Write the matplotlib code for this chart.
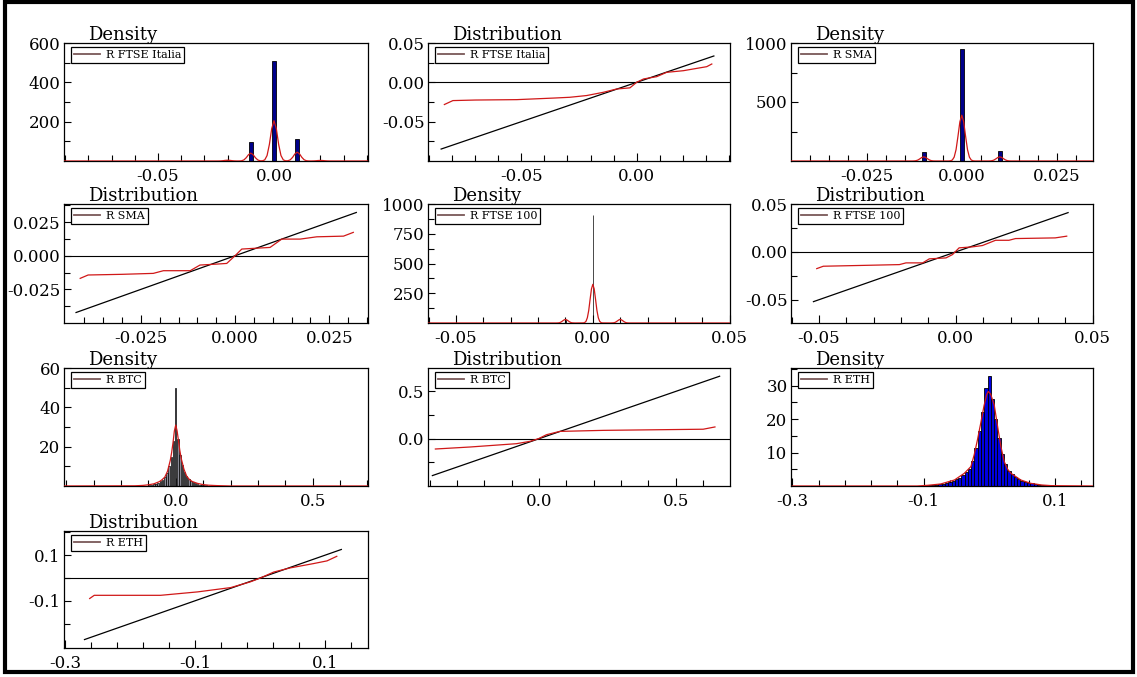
import matplotlib
matplotlib.use("Agg")
import matplotlib.pyplot as plt
from matplotlib.patches import Rectangle
from matplotlib.lines import Line2D
from matplotlib.ticker import FixedLocator, FormatStrFormatter

plt.rcParams['font.family'] = ['DejaVu Serif']
plt.rcParams['axes.unicode_minus'] = False

# ---------------- data ----------------
# Density R FTSE Italia
ita_bar_x = [-0.02, -0.01, 0.0, 0.01, 0.02]
ita_bar_h = [5, 98, 507, 110, 3]
ita_kde_x = [-0.0905, -0.025, -0.024, -0.023, -0.022, -0.021, -0.020, -0.019, -0.018, -0.017,
             -0.016, -0.015, -0.014, -0.013, -0.012, -0.011, -0.010, -0.009, -0.008, -0.007,
             -0.006, -0.005, -0.004, -0.003, -0.002, -0.001, 0.000, 0.001, 0.002, 0.003,
             0.004, 0.005, 0.006, 0.007, 0.008, 0.009, 0.010, 0.011, 0.012, 0.013,
             0.014, 0.015, 0.016, 0.017, 0.018, 0.019, 0.020, 0.021, 0.022, 0.023,
             0.024, 0.025, 0.0405]
ita_kde_y = [0, 0, 0.1, 0.5, 1.6, 3.2, 4.0, 3.2, 1.6, 0.5,
             0.1, 0.2, 1.1, 5.4, 16.4, 32, 40, 32, 16.4, 5.4,
             1.1, 1.0, 5.7, 27.7, 84, 164, 205, 164, 84, 27.7,
             5.7, 1.0, 1.3, 6.1, 18.5, 36, 45, 36, 18.5, 6.1,
             1.3, 0.2, 0.1, 0.4, 1.2, 2.4, 3.0, 2.4, 1.2, 0.4,
             0.1, 0, 0]

# Distribution R FTSE Italia
ita_q_x = [-0.0834, -0.0797, -0.070, -0.052, -0.036, -0.029, -0.0217, -0.0145, -0.0087,
           -0.0029, 0.0, 0.003, 0.0087, 0.013, 0.0203, 0.026, 0.0304, 0.0326]
ita_q_y = [-0.0282, -0.0232, -0.0225, -0.022, -0.020, -0.019, -0.0168, -0.0127, -0.0085,
           -0.0070, 0.0, 0.0043, 0.0072, 0.0127, 0.0148, 0.0177, 0.0199, 0.0233]
ita_ref = [-0.0848, 0.0335]

# Density R SMA
sma_bar_x = [-0.01, 0.0, 0.01]
sma_bar_h = [80, 950, 82]
sma_kde_x = [-0.045, -0.013, -0.0125, -0.012, -0.0115, -0.011, -0.0105, -0.010, -0.0095,
             -0.009, -0.0085, -0.008, -0.0075, -0.007, -0.0035, -0.003, -0.0025, -0.002,
             -0.0015, -0.001, -0.0005, 0.0, 0.0005, 0.001, 0.0015, 0.002, 0.0025, 0.003,
             0.0035, 0.007, 0.0075, 0.008, 0.0085, 0.009, 0.0095, 0.010, 0.0105, 0.011,
             0.0115, 0.012, 0.0125, 0.013, 0.0345]
sma_kde_y = [0, 0, 0.7, 3, 8.8, 19, 30, 35, 30,
             19, 8.8, 3, 0.7, 0.1, 0, 1.6, 8, 33,
             97, 210, 332, 388, 332, 210, 97, 33, 8, 1.6,
             0, 0.1, 0.7, 3, 8.8, 19, 30, 35, 30, 19,
             8.8, 3, 0.7, 0, 0]

# Distribution R SMA
sma_q_x = [-0.0411, -0.039, -0.030, -0.0217, -0.019, -0.0119, -0.0093, -0.0049, -0.0022,
           0.0, 0.0018, 0.0049, 0.0093, 0.0124, 0.0173, 0.0217, 0.0288, 0.0314]
sma_q_y = [-0.0168, -0.0143, -0.0138, -0.0131, -0.0111, -0.0111, -0.0069, -0.0062, -0.0057,
           0.0, 0.0050, 0.0055, 0.0062, 0.0124, 0.0124, 0.0141, 0.0146, 0.0174]
sma_ref = [-0.0422, 0.0322]

# Density R FTSE 100
uk_bar_x = [-0.01, 0.0, 0.01]
uk_bar_h = [25, 910, 20]
uk_kde_x = [-0.06, -0.0135, -0.013, -0.0125, -0.012, -0.0115, -0.011, -0.0105, -0.010,
            -0.0095, -0.009, -0.0085, -0.008, -0.0075, -0.0065, -0.0035, -0.003, -0.0025,
            -0.002, -0.0015, -0.001, -0.0005, 0.0, 0.0005, 0.001, 0.0015, 0.002, 0.0025,
            0.003, 0.0035, 0.0065, 0.0075, 0.008, 0.0085, 0.009, 0.0095, 0.010, 0.0105,
            0.011, 0.0115, 0.012, 0.0125, 0.013, 0.0135, 0.05]
uk_kde_y = [0, 0, 0.3, 1.3, 4, 9.7, 18, 26, 30,
            26, 18, 9.7, 4, 1.3, 0, 0.7, 3.6, 14,
            44, 105, 198, 286, 325, 286, 198, 105, 44, 14,
            3.6, 0.7, 0, 1.3, 4, 9.7, 18, 26, 30, 26,
            18, 9.7, 4, 1.3, 0.3, 0, 0]

# Distribution R FTSE 100
uk_q_x = [-0.0508, -0.0484, -0.035, -0.0206, -0.0182, -0.0121, -0.0097, -0.0036, -0.0012,
          0.0012, 0.006, 0.0097, 0.0145, 0.0194, 0.0218, 0.0363, 0.0405]
uk_q_y = [-0.0175, -0.0150, -0.0142, -0.0133, -0.0115, -0.0115, -0.0073, -0.0063, -0.0028,
          0.0042, 0.0052, 0.0066, 0.0121, 0.0121, 0.0139, 0.0146, 0.0164]
uk_ref = [-0.052, 0.041]

# Density R BTC
btc_bar_x = [-0.096, -0.088, -0.080, -0.072, -0.064, -0.056, -0.048, -0.040, -0.032, -0.024,
             -0.016, -0.008, 0.0, 0.008, 0.016, 0.024, 0.032, 0.040, 0.048, 0.056,
             0.064, 0.072, 0.080, 0.088, 0.096, 0.104, 0.112, 0.120]
btc_bar_h = [0.4, 0.5, 0.8, 1.1, 1.6, 2.3, 3.3, 4.6, 6.7, 10,
             15, 23, 50, 24, 16, 10.5, 7, 5, 3.5, 2.5,
             1.8, 1.3, 1.0, 0.7, 0.5, 0.4, 0.3, 0.2]
btc_kde_x = [-0.408, -0.15, -0.12, -0.10, -0.08, -0.06, -0.05, -0.04, -0.03, -0.02, -0.015,
             -0.01, -0.005, 0.0, 0.005, 0.01, 0.015, 0.02, 0.03, 0.04, 0.05, 0.06, 0.08,
             0.10, 0.12, 0.15, 0.20, 0.702]
btc_kde_y = [0, 0.1, 0.3, 0.6, 1.1, 2.2, 3.2, 4.5, 7.5, 13, 17,
             22, 28, 31, 28, 23, 18, 14, 8.5, 5, 3.3, 2.3, 1.3,
             0.7, 0.4, 0.2, 0, 0]

# Distribution R BTC
btc_q_x = [-0.379, -0.253, -0.083, -0.033, -0.002, 0.027, 0.076, 0.235, 0.60, 0.643]
btc_q_y = [-0.109, -0.088, -0.053, -0.028, 0.0, 0.042, 0.077, 0.088, 0.100, 0.124]
btc_ref = [-0.39, 0.66]

# Density R ETH
eth_bar_x = [-0.095, -0.090, -0.085, -0.080, -0.075, -0.070, -0.065, -0.060, -0.055, -0.050,
             -0.045, -0.040, -0.035, -0.030, -0.025, -0.020, -0.015, -0.010, -0.005, 0.0,
             0.005, 0.010, 0.015, 0.020, 0.025, 0.030, 0.035, 0.040, 0.045, 0.050,
             0.055, 0.060, 0.065, 0.070, 0.075, 0.080, 0.085, 0.090, 0.095]
eth_bar_h = [0.15, 0.2, 0.3, 0.4, 0.5, 0.6, 0.8, 1.1, 1.5, 2.0,
             2.3, 3.3, 4.2, 5.0, 7.5, 11.5, 16.5, 22, 29.3, 32.8,
             26, 20, 14.5, 9.5, 6.5, 4.5, 3.5, 2.8, 2.0, 1.6,
             1.3, 1.0, 0.8, 0.6, 0.4, 0.3, 0.3, 0.2, 0.15]
eth_kde_x = [-0.30, -0.11, -0.094, -0.074, -0.053, -0.038, -0.028, -0.023, -0.018, -0.013,
             -0.008, -0.004, -0.0015, 0.002, 0.0075, 0.0127, 0.0177, 0.0228, 0.028, 0.033,
             0.048, 0.063, 0.08, 0.095, 0.158]
eth_kde_y = [0, 0, 0.2, 0.6, 1.8, 3.8, 5.8, 9.3, 13.8, 18.8,
             24, 27.3, 28.3, 27.5, 24.3, 17.8, 11.8, 7.3, 5.0, 3.8,
             1.8, 0.8, 0.3, 0.1, 0]

# Distribution R ETH
eth_q_x = [-0.262, -0.255, -0.153, -0.096, -0.045, -0.015, 0.0005, 0.021, 0.046, 0.082,
           0.103, 0.118]
eth_q_y = [-0.090, -0.076, -0.076, -0.061, -0.042, -0.017, 0.0, 0.026, 0.044, 0.063,
           0.075, 0.095]
eth_ref = [-0.27, 0.125]

# ---------------- figure ----------------
W, H = 1137, 677
fig = plt.figure(figsize=(W / 100, H / 100), dpi=100)

cols_left = [64, 428, 791]
cols_w = [304, 302, 302]
rows_top = [43, 204, 368, 531]
rows_h = [118, 119, 118, 117]

RED = '#d01818'
LEG = '#7a5858'


def make_ax(r, c):
    l, w = cols_left[c], cols_w[c]
    t, h = rows_top[r], rows_h[r]
    ax = fig.add_axes([l / W, 1 - (t + h) / H, w / W, h / H])
    return ax, w, h


def style(ax, w, h, title, label, xlim, ylim, xmaj, xmin, ymaj, ymin, xfmt, yfmt):
    ax.set_xlim(*xlim)
    ax.set_ylim(*ylim)
    ax.xaxis.set_major_locator(FixedLocator(xmaj))
    ax.xaxis.set_minor_locator(FixedLocator(xmin))
    ax.yaxis.set_major_locator(FixedLocator(ymaj))
    ax.yaxis.set_minor_locator(FixedLocator(ymin))
    ax.xaxis.set_major_formatter(FormatStrFormatter(xfmt))
    ax.yaxis.set_major_formatter(FormatStrFormatter(yfmt))
    ax.tick_params(axis='both', which='both', direction='in', top=False, right=False,
                   labelsize=12, width=0.8, colors='black')
    ax.tick_params(axis='x', which='major', length=6, pad=5)
    ax.tick_params(axis='x', which='minor', length=4)
    ax.tick_params(axis='y', which='major', length=5, pad=2.5)
    ax.tick_params(axis='y', which='minor', length=4)
    for s in ax.spines.values():
        s.set_linewidth(0.9)
    ax.text(24 / w, 1 + 3.5 / h, title, transform=ax.transAxes, fontsize=13,
            ha='left', va='baseline')
    handle = Line2D([], [], color=LEG, lw=1.3)
    leg = ax.legend([handle], [label], loc='upper left',
                    bbox_to_anchor=(7 / w, 1 - 4 / h), borderaxespad=0,
                    fontsize=8, fancybox=False, framealpha=1, edgecolor='black',
                    handlelength=2.4, handletextpad=0.5, borderpad=0.25)
    leg.get_frame().set_linewidth(0.9)


def density(ax, bx, bh, width, kx, ky, face, edge, elw):
    ax.bar(bx, bh, width=width, color=face, edgecolor=edge, linewidth=elw, zorder=2)
    ax.plot(kx, ky, color=RED, lw=0.9, zorder=3)


def distribution(ax, qx, qy, ref):
    ax.axhline(0, color='black', lw=0.8, zorder=1)
    ax.plot(ref, ref, color='black', lw=0.9, zorder=2)
    ax.plot(qx, qy, color=RED, lw=0.9, zorder=3)


def steps(a, b, s):
    out = []
    v = a
    while v <= b + 1e-9:
        out.append(round(v, 6))
        v += s
    return out


# Panel 1: Density FTSE Italia
ax, w, h = make_ax(0, 0)
density(ax, ita_bar_x, ita_bar_h, 0.0017, ita_kde_x, ita_kde_y, '#00008a', 'black', 0.6)
style(ax, w, h, 'Density', 'R FTSE Italia', (-0.0905, 0.0405), (0, 600),
      [-0.05, 0.0], steps(-0.09, 0.04, 0.01), [200, 400, 600], [100, 300, 500], '%.2f', '%d')

# Panel 2: Distribution FTSE Italia
ax, w, h = make_ax(0, 1)
distribution(ax, ita_q_x, ita_q_y, ita_ref)
style(ax, w, h, 'Distribution', 'R FTSE Italia', (-0.0905, 0.0405), (-0.1, 0.05),
      [-0.05, 0.0], steps(-0.09, 0.04, 0.01), [-0.05, 0.0, 0.05], [-0.075, -0.025, 0.025],
      '%.2f', '%.2f')

# Panel 3: Density SMA
ax, w, h = make_ax(0, 2)
density(ax, sma_bar_x, sma_bar_h, 0.0011, sma_kde_x, sma_kde_y, '#00008a', 'black', 0.6)
style(ax, w, h, 'Density', 'R SMA', (-0.0449, 0.0345), (0, 1000),
      [-0.025, 0.0, 0.025], steps(-0.04, 0.03, 0.005), [500, 1000], [250, 750], '%.3f', '%d')

# Panel 4: Distribution SMA
ax, w, h = make_ax(1, 0)
distribution(ax, sma_q_x, sma_q_y, sma_ref)
style(ax, w, h, 'Distribution', 'R SMA', (-0.0454, 0.0353), (-0.05, 0.0385),
      [-0.025, 0.0, 0.025], steps(-0.04, 0.035, 0.005), [-0.025, 0.0, 0.025],
      [-0.0375, -0.0125, 0.0125, 0.0375], '%.3f', '%.3f')

# Panel 5: Density FTSE 100
ax, w, h = make_ax(1, 1)
density(ax, uk_bar_x, uk_bar_h, 0.0002, uk_kde_x, uk_kde_y, 'black', 'black', 0.5)
style(ax, w, h, 'Density', 'R FTSE 100', (-0.0602, 0.0501), (0, 1000),
      [-0.05, 0.0, 0.05], steps(-0.06, 0.05, 0.01), [250, 500, 750, 1000],
      [125, 375, 625, 875], '%.2f', '%d')

# Panel 6: Distribution FTSE 100
ax, w, h = make_ax(1, 2)
distribution(ax, uk_q_x, uk_q_y, uk_ref)
style(ax, w, h, 'Distribution', 'R FTSE 100', (-0.0602, 0.0501), (-0.0743, 0.05),
      [-0.05, 0.0, 0.05], steps(-0.06, 0.05, 0.01), [-0.05, 0.0, 0.05], [-0.025, 0.025],
      '%.2f', '%.2f')

# Panel 7: Density BTC
ax, w, h = make_ax(2, 0)
density(ax, btc_bar_x, btc_bar_h, 0.0055, btc_kde_x, btc_kde_y, '#8a8a96', 'black', 0.5)
style(ax, w, h, 'Density', 'R BTC', (-0.408, 0.702), (0, 60),
      [0.0, 0.5], steps(-0.4, 0.7, 0.1), [20, 40, 60], [10, 30, 50], '%.1f', '%d')

# Panel 8: Distribution BTC
ax, w, h = make_ax(2, 1)
distribution(ax, btc_q_x, btc_q_y, btc_ref)
style(ax, w, h, 'Distribution', 'R BTC', (-0.406, 0.698), (-0.5, 0.747),
      [0.0, 0.5], steps(-0.4, 0.6, 0.1), [0.0, 0.5], [-0.25, 0.25], '%.1f', '%.1f')

# Panel 9: Density ETH
ax, w, h = make_ax(2, 2)
density(ax, eth_bar_x, eth_bar_h, 0.005, eth_kde_x, eth_kde_y, '#0000e0', 'black', 0.6)
style(ax, w, h, 'Density', 'R ETH', (-0.302, 0.158), (0, 35.3),
      [-0.3, -0.1, 0.1], steps(-0.3, 0.15, 0.04), [10, 20, 30], [5, 15, 25, 35], '%.1f', '%d')

# Panel 10: Distribution ETH
ax, w, h = make_ax(3, 0)
distribution(ax, eth_q_x, eth_q_y, eth_ref)
style(ax, w, h, 'Distribution', 'R ETH', (-0.3015, 0.166), (-0.307, 0.206),
      [-0.3, -0.1, 0.1], steps(-0.3, 0.16, 0.04), [-0.1, 0.1], [-0.2, 0.0, 0.2],
      '%.1f', '%.1f')

# thick frame around the whole picture
frame = Rectangle((5 / W, 1 - 672 / H), (1133 - 5) / W, (672 - 2) / H,
                  transform=fig.transFigure, fill=False, lw=3, edgecolor='black', zorder=100)
fig.add_artist(frame)

fig.savefig('out.png', dpi=100, facecolor='white')
